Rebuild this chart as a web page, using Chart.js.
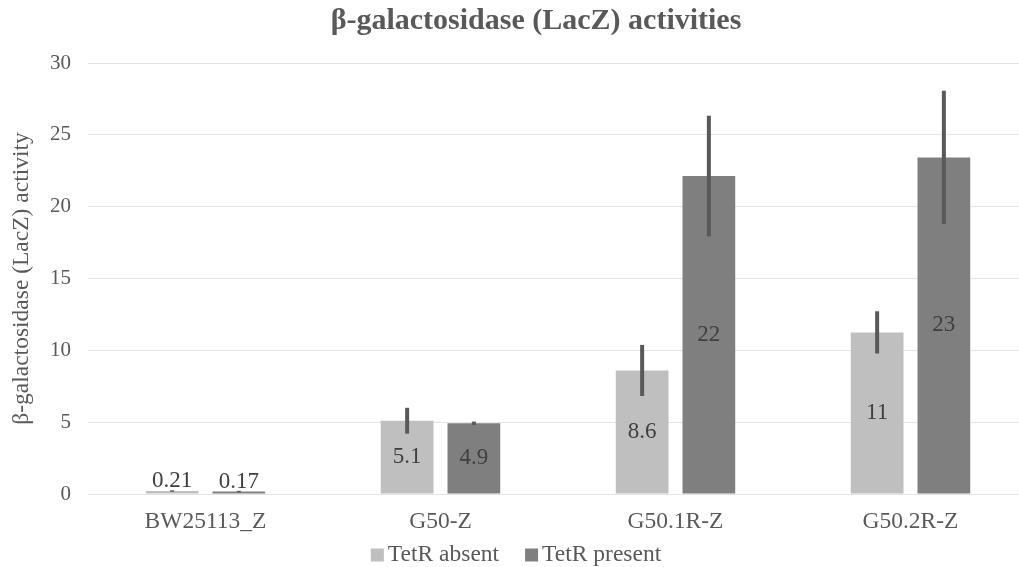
<!DOCTYPE html>
<html><head><meta charset="utf-8">
<script src="https://cdn.jsdelivr.net/npm/chart.js@4.4.1/dist/chart.umd.min.js"></script>
<style>html,body{margin:0;padding:0;overflow:hidden;background:#fff}canvas{display:block}</style>
</head><body><canvas id="c" width="1028" height="567"></canvas>
<script>
const categories = ['BW25113_Z', 'G50-Z', 'G50.1R-Z', 'G50.2R-Z'];
const seriesNames = ['TetR absent', 'TetR present'];
const absentValues = [0.21, 5.1, 8.6, 11.25];
const presentValues = [0.17, 4.92, 22.13, 23.43];
const absentErrors = [0.05, 0.9, 1.78, 1.47];
const presentErrors = [0.05, 0.12, 4.2, 4.64];
const absentLabels = ['0.21', '5.1', '8.6', '11'];
const presentLabels = ['0.17', '4.9', '22', '23'];
const yTicks = [0, 5, 10, 15, 20, 25, 30];
const titleText = 'β-galactosidase (LacZ) activities';
const yTitleText = 'β-galactosidase (LacZ) activity';

const FONT = "'Liberation Serif', 'Times New Roman', serif";
Chart.defaults.font.family = FONT;

const errorBars = {
  id: 'errorBars',
  afterDatasetsDraw(chart) {
    const ctx = chart.ctx, y = chart.scales.y;
    chart.data.datasets.forEach((ds, i) => {
      const meta = chart.getDatasetMeta(i);
      meta.data.forEach((el, j) => {
        const v = ds.data[j], e = ds.errors[j];
        ctx.save();
        ctx.strokeStyle = '#595959';
        ctx.lineWidth = 4;
        ctx.beginPath();
        ctx.moveTo(el.x, y.getPixelForValue(v + e));
        ctx.lineTo(el.x, y.getPixelForValue(v - e));
        ctx.stroke();
        ctx.restore();
      });
    });
    chart.data.datasets.forEach((ds, i) => {
      const meta = chart.getDatasetMeta(i);
      meta.data.forEach((el, j) => {
        const h = el.base - el.y;
        const ty = h < 25 ? el.y - 10 : (el.y + el.base) / 2;
        ctx.save();
        ctx.fillStyle = '#404040';
        ctx.font = "23px " + FONT;
        ctx.textAlign = 'center';
        ctx.textBaseline = 'middle';
        ctx.fillText(ds.valueLabels[j], el.x, ty);
        ctx.restore();
      });
    });
  }
};

const customLegend = {
  id: 'customLegend',
  afterDraw(chart) {
    const ctx = chart.ctx;
    ctx.save();
    ctx.font = "23.5px " + FONT;
    const box = 13, gap = 4, spacing = 26;
    const items = chart.data.datasets.map(d => ({ t: d.label, c: d.backgroundColor, w: ctx.measureText(d.label).width }));
    let total = items.reduce((s, it) => s + box + gap + it.w, 0) + spacing * (items.length - 1);
    let x = chart.width / 2 + 2 - total / 2;
    const cy = 555;
    items.forEach(it => {
      ctx.fillStyle = it.c;
      ctx.fillRect(x, cy - box / 2, box, box);
      x += box + gap;
      ctx.fillStyle = '#595959';
      ctx.textAlign = 'left';
      ctx.textBaseline = 'middle';
      ctx.fillText(it.t, x, cy);
      x += it.w + spacing;
    });
    ctx.restore();
  }
};

new Chart(document.getElementById('c'), {
  type: 'bar',
  data: {
    labels: categories,
    datasets: [
      { label: seriesNames[0], data: absentValues, errors: absentErrors, valueLabels: absentLabels,
        backgroundColor: '#bfbfbf', borderWidth: 0, categoryPercentage: 0.568, barPercentage: 0.79 },
      { label: seriesNames[1], data: presentValues, errors: presentErrors, valueLabels: presentLabels,
        backgroundColor: '#7f7f7f', borderWidth: 0, categoryPercentage: 0.568, barPercentage: 0.79 }
    ]
  },
  options: {
    responsive: false,
    animation: false,
    layout: { padding: { left: 44, right: 0, top: 0, bottom: 0 } },
    plugins: {
      legend: { display: false },
      tooltip: { enabled: false },
      title: {
        display: true, text: titleText, color: '#595959',
        font: { size: 30, weight: 'bold', family: FONT },
        padding: { top: 3, bottom: 24 }
      }
    },
    scales: {
      x: {
        grid: { display: false, drawTicks: false },
        border: { display: false },
        ticks: { color: '#595959', font: { size: 23.5 }, padding: 14 },
        afterFit(s) { s.height = 73; }
      },
      y: {
        min: 0, max: 30,
        afterBuildTicks(s) { s.ticks = yTicks.map(v => ({ value: v })); },
        grid: { color: '#e3e3e3', lineWidth: 1, drawTicks: false },
        border: { display: false },
        ticks: { color: '#595959', font: { size: 21 }, padding: 17 },
        title: { display: true, text: yTitleText, color: '#595959', font: { size: 23.5 }, padding: { top: -36.1, bottom: 0 } },
        afterFit(s) { s.width = 44; }
      }
    }
  },
  plugins: [errorBars, customLegend]
});
</script>
</body></html>
